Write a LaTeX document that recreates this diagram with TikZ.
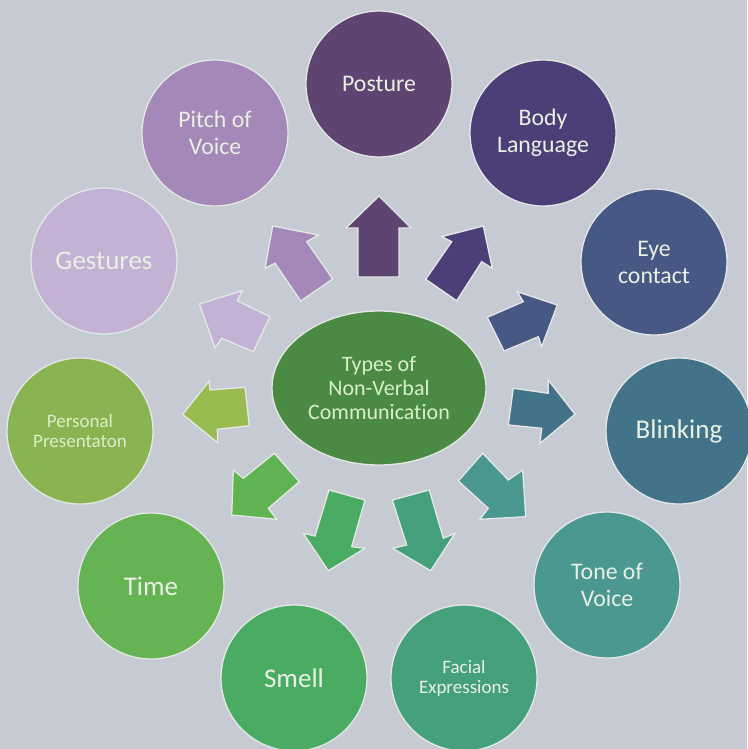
\documentclass[tikz,border=0pt]{standalone}
\usepackage{fontspec}
\usetikzlibrary{shapes.geometric}
\setmainfont[Ligatures=NoCommon]{Carlito}
\definecolor{bgc}{HTML}{C6CBD3}
\definecolor{cPosture}{HTML}{5E4470}
\definecolor{cBody}{HTML}{4C3F78}
\definecolor{cEye}{HTML}{485885}
\definecolor{cBlink}{HTML}{427389}
\definecolor{cTone}{HTML}{4A9890}
\definecolor{cFacial}{HTML}{45A07C}
\definecolor{cSmell}{HTML}{4AAC62}
\definecolor{cTime}{HTML}{66B354}
\definecolor{cPers}{HTML}{8AB451}
\definecolor{cPersArrow}{HTML}{98BC50}
\definecolor{cTimeArrow}{HTML}{5FB350}
\definecolor{cGest}{HTML}{C3B2D4}
\definecolor{cPitch}{HTML}{A388B8}
\definecolor{cCentre}{HTML}{4B8A42}
\definecolor{txtc}{HTML}{EAF0E4}
\definecolor{txtg}{HTML}{D8EFC8}
\definecolor{edgec}{HTML}{E4E8E6}
\tikzset{
  rim/.style={draw=edgec,line width=1.3pt},
  topic/.style={circle,rim,minimum size=146pt,inner sep=0pt,align=center,text=txtc,font=\fontsize{23.8}{27}\selectfont},
  small/.style={font=\fontsize{19}{20}\selectfont},
  large/.style={font=\fontsize{27}{30}\selectfont},
  blockarrow/.style={rim,line join=miter}
}
\begin{document}
\begin{tikzpicture}[x=1pt,y=-1pt]
\useasboundingbox (0,0) rectangle (747,749);
\fill[bgc] (0,0) rectangle (747,749);
\node[topic,fill=cPosture] (posture) at (379,84) {Posture};
\node[topic,fill=cBody] (body) at (543,133) {Body\\Language};
\node[topic,fill=cEye] (eye) at (654,262) {Eye\\contact};
\node[topic,fill=cBlink,large] (blink) at (679,431) {Blinking};
\node[topic,fill=cTone] (tone) at (607,585) {Tone of\\Voice};
\node[topic,fill=cFacial,small] (facial) at (464,678) {Facial\\Expressions};
\node[topic,fill=cSmell,large] (smell) at (294,678) {Smell};
\node[topic,fill=cTime,large] (time) at (151,586) {Time};
\node[topic,fill=cPers,small,text=txtg] (pers) at (80,431) {Personal\\Presentaton};
\node[topic,fill=cGest,large] (gest) at (104,261) {Gestures};
\node[topic,fill=cPitch] (pitch) at (215,133) {Pitch of\\Voice};
\node[ellipse,rim,fill=cCentre,minimum width=214pt,minimum height=154pt,inner sep=0pt,align=center,text=txtg,font=\fontsize{22}{24}\selectfont] (centre) at (379,388) {Types of\\Non-Verbal\\Communication};
\filldraw[blockarrow,fill=cPosture] (358,277)--(358,228)--(346,228)--(379,196)--(411,228)--(399,228)--(399,277)--cycle;
\filldraw[blockarrow,fill=cBody] (425.7,279.3)--(451.7,241.7)--(441.7,236.7)--(483.3,226)--(492.3,268.3)--(481.7,261.7)--(456.7,300.7)--cycle;
\filldraw[blockarrow,fill=cEye] (487.3,317.3)--(523.3,301.7)--(517.3,291.7)--(557.3,305)--(541.7,346.7)--(538.3,336.7)--(504,351)--cycle;
\filldraw[blockarrow,fill=cBlink] (513.3,388.3)--(548.3,393.3)--(548.3,380)--(575,414.3)--(540,443.3)--(541.7,428.3)--(508.3,425)--cycle;
\filldraw[blockarrow,fill=cTone] (482.7,453.3)--(508.3,480)--(522.7,470)--(525.7,516.7)--(480,519.3)--(488.3,508.3)--(458.3,481)--cycle;
\filldraw[blockarrow,fill=cFacial] (429.3,490)--(443.3,538.3)--(455,533.3)--(430.7,570.7)--(392.7,548.3)--(406.7,545)--(392.3,500)--cycle;
\filldraw[blockarrow,fill=cSmell] (365,500)--(329,490)--(315,536)--(303.3,533.3)--(328.3,570.7)--(365,548.3)--(351.7,546.7)--cycle;
\filldraw[blockarrow,fill=cTimeArrow] (299.3,481.7)--(274.3,453.3)--(243.3,478.3)--(233.3,470)--(231.7,515)--(276.7,519.3)--(268.3,508.3)--cycle;
\filldraw[blockarrow,fill=cPersArrow] (245,387.3)--(249.3,425.7)--(217.3,429.3)--(217.7,442.7)--(182.7,414.3)--(209.3,381)--(210,390)--cycle;
\filldraw[blockarrow,fill=cGest] (270,316.7)--(253.3,351.7)--(221.7,338.3)--(215,347.7)--(199.3,304)--(242.3,290.7)--(237.3,300.7)--cycle;
\filldraw[blockarrow,fill=cPitch] (332.7,279)--(300.7,301)--(275,263.3)--(265,268.3)--(272.7,226)--(318.3,235)--(306.7,241.7)--cycle;
\end{tikzpicture}
\end{document}
